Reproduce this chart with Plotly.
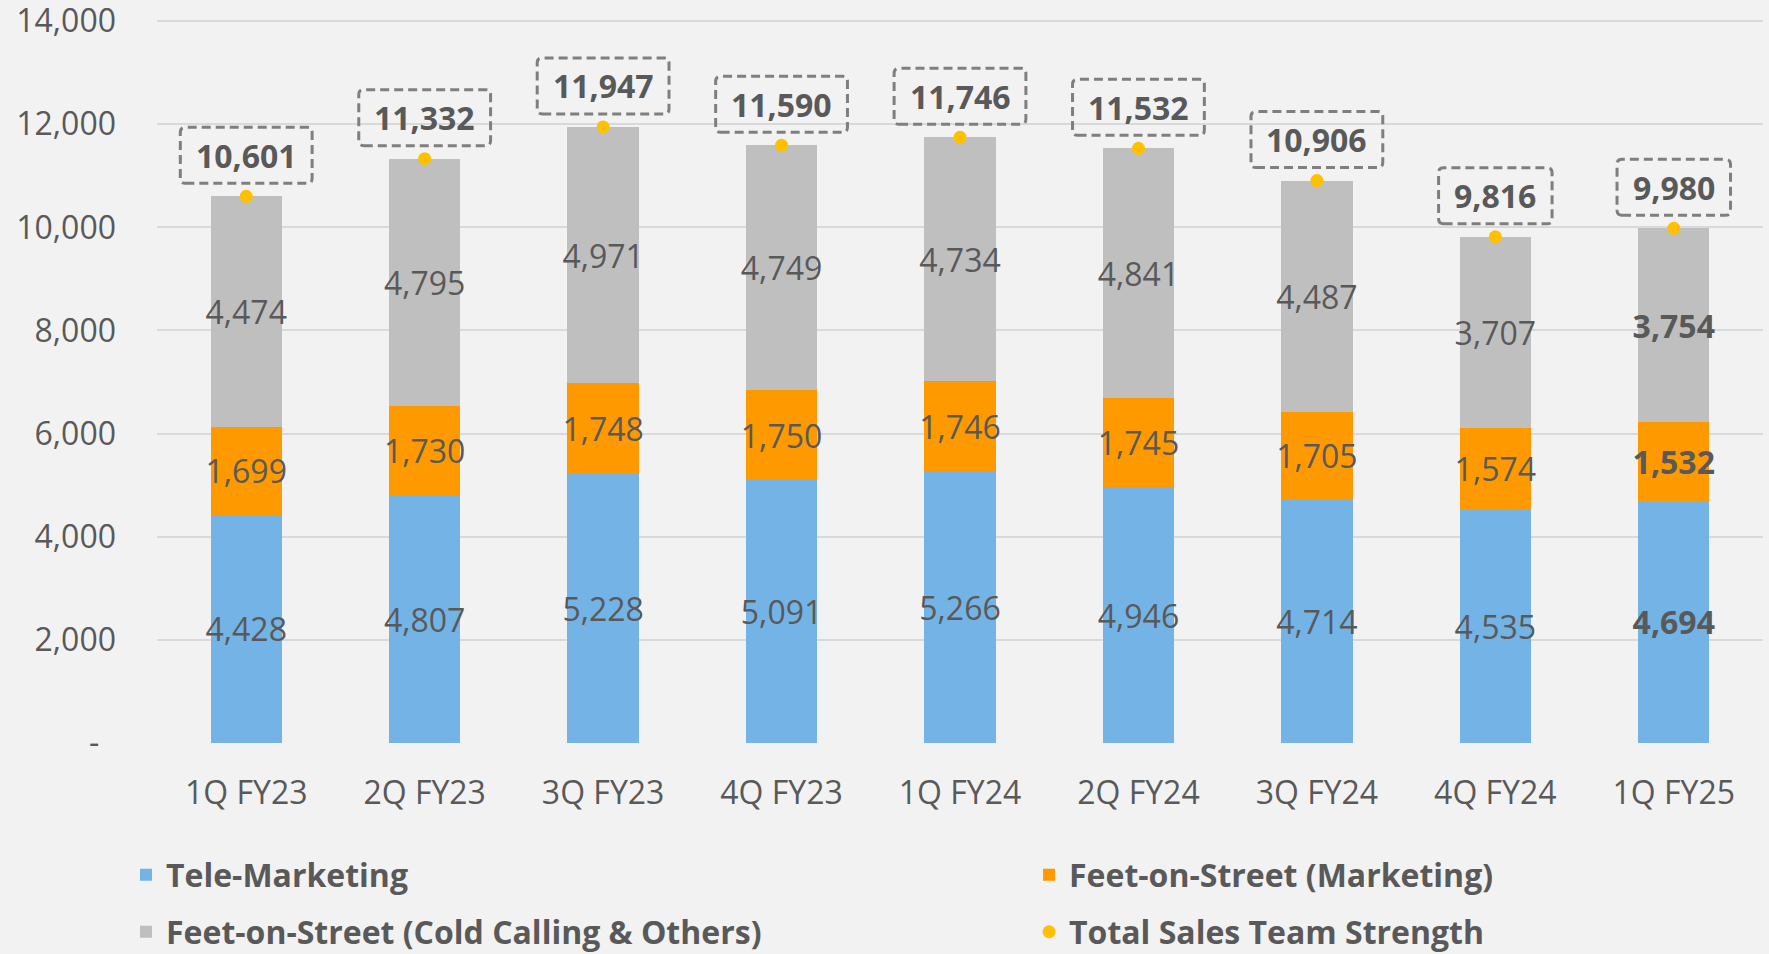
import plotly.graph_objects as go

# ---- data -------------------------------------------------------------
quarters = ["1Q FY23", "2Q FY23", "3Q FY23", "4Q FY23", "1Q FY24",
            "2Q FY24", "3Q FY24", "4Q FY24", "1Q FY25"]
tele_marketing = [4428, 4807, 5228, 5091, 5266, 4946, 4714, 4535, 4694]
fos_marketing = [1699, 1730, 1748, 1750, 1746, 1745, 1705, 1574, 1532]
fos_cold_calling = [4474, 4795, 4971, 4749, 4734, 4841, 4487, 3707, 3754]
total_strength = [10601, 11332, 11947, 11590, 11746, 11532, 10906, 9816, 9980]

y_tick_values = [0, 2000, 4000, 6000, 8000, 10000, 12000, 14000]
y_tick_labels = ["-\u00a0\u00a0", "2,000", "4,000", "6,000", "8,000",
                 "10,000", "12,000", "14,000"]

# ---- styling ----------------------------------------------------------
FONT = "Open Sans"
TEXT = "#595959"
BG = "#F2F2F2"
GRID = "#D9D9D9"
BLUE = "#74B3E6"
ORANGE = "#FF9900"
GREY = "#BFBFBF"
GOLD = "#FFC000"
FS = 32


def segment_labels(values):
    """Thousands-separated labels; the latest quarter is shown in bold."""
    out = []
    for i, v in enumerate(values):
        s = f"{v:,}"
        if i == len(values) - 1:
            s = f"<b>{s}</b>"
        out.append(s)
    return out


fig = go.Figure()

# each series gets its own legend box so the legend forms a 2 x 2 grid
bar_series = [
    ("Tele-Marketing", tele_marketing, BLUE, "legend"),
    ("Feet-on-Street (Marketing)", fos_marketing, ORANGE, "legend2"),
    ("Feet-on-Street (Cold Calling & Others)", fos_cold_calling, GREY, "legend3"),
]
for name, values, color, leg in bar_series:
    fig.add_trace(go.Bar(
        name=name,
        x=quarters,
        y=values,
        marker=dict(color=color, line=dict(width=0)),
        text=segment_labels(values),
        textposition="inside",
        insidetextanchor="middle",
        textangle=0,
        constraintext="none",
        textfont=dict(family=FONT, size=FS, color=TEXT),
        hoverinfo="skip",
        legend=leg,
    ))

fig.add_trace(go.Scatter(
    name="Total Sales Team Strength",
    x=quarters,
    y=total_strength,
    mode="markers",
    marker=dict(color=GOLD, size=13),
    hoverinfo="skip",
    legend="legend4",
))

# ---- total labels with dashed rounded frames --------------------------
DIGIT_W = 0.572 * FS
COMMA_W = 0.29 * FS
BOX_Y0, BOX_Y1, RADIUS = 13, 69, 5

for q, t in zip(quarters, total_strength):
    label = f"{t:,}"
    fig.add_annotation(
        x=q, y=t, yshift=(BOX_Y0 + BOX_Y1) / 2,
        text=f"<b>{label}</b>", showarrow=False,
        font=dict(family=FONT, size=FS, color=TEXT),
        xanchor="center", yanchor="middle",
    )
    n_digits = sum(ch.isdigit() for ch in label)
    hw = (n_digits * DIGIT_W + COMMA_W + 31) / 2
    r, y0, y1 = RADIUS, BOX_Y0, BOX_Y1
    path = (f"M{-hw + r},{y0} L{hw - r},{y0} Q{hw},{y0} {hw},{y0 + r} "
            f"L{hw},{y1 - r} Q{hw},{y1} {hw - r},{y1} "
            f"L{-hw + r},{y1} Q{-hw},{y1} {-hw},{y1 - r} "
            f"L{-hw},{y0 + r} Q{-hw},{y0} {-hw + r},{y0} Z")
    fig.add_shape(
        type="path", path=path,
        xref="x", yref="y",
        xsizemode="pixel", ysizemode="pixel",
        xanchor=q, yanchor=t,
        line=dict(color="#7F7F7F", width=3, dash="9px,5px"),
        fillcolor="rgba(0,0,0,0)",
        layer="above",
    )


def legend_box(x, y):
    return dict(
        orientation="h",
        xanchor="left", x=x,
        yanchor="middle", y=y,
        font=dict(family=FONT, size=FS, color=TEXT, weight="bold"),
        bgcolor="rgba(0,0,0,0)",
    )


# plot area: 724 px tall, 1606 px wide
COL1_X, COL2_X = -0.0193, 0.543
ROW1_Y, ROW2_Y = -0.1823, -0.2610

fig.update_layout(
    width=1769,
    height=954,
    paper_bgcolor=BG,
    plot_bgcolor=BG,
    barmode="stack",
    bargap=0.6,
    margin=dict(l=157, r=6, t=19, b=211, autoexpand=False),
    font=dict(family=FONT, size=FS, color=TEXT),
    showlegend=True,
    legend=legend_box(COL1_X, ROW1_Y),
    legend2=legend_box(COL2_X, ROW1_Y),
    legend3=legend_box(COL1_X, ROW2_Y),
    legend4=legend_box(COL2_X, ROW2_Y),
    xaxis=dict(
        type="category",
        showgrid=False,
        zeroline=False,
        showline=False,
        ticks="",
        ticklabelstandoff=28,
        tickfont=dict(family=FONT, size=FS, color=TEXT),
    ),
    yaxis=dict(
        range=[0, 14040],
        tickvals=y_tick_values,
        ticktext=y_tick_labels,
        showgrid=True,
        gridcolor=GRID,
        gridwidth=2,
        zeroline=False,
        showline=False,
        ticks="",
        ticklabelstandoff=40,
        ticklabeloverflow="allow",
        tickfont=dict(family=FONT, size=FS, color=TEXT),
    ),
)

fig.write_html("out.html")
